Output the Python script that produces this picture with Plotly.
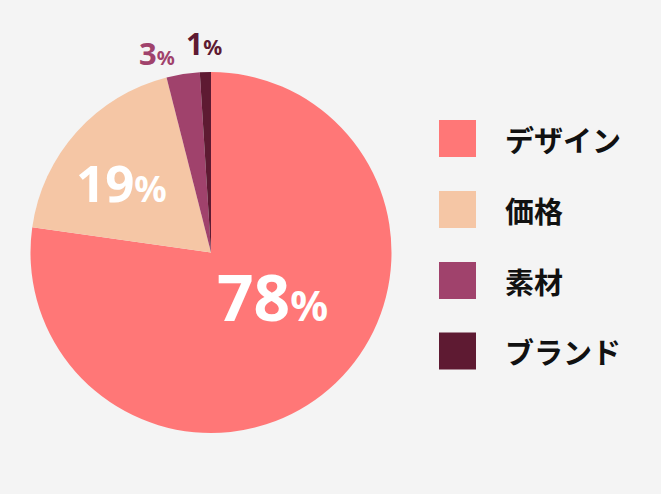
import math
import plotly.graph_objects as go

labels = ["デザイン", "価格", "素材", "ブランド"]
values = [78, 19, 3, 1]
colors = ["#FF7777", "#F5C6A5", "#A0426C", "#5E1A32"]

# label styling (size of number, size of %, colour, radial factor, angular nudge in degrees)
num_sizes = [64, 51, 31, 30]
pct_sizes = [42, 36, 20, 21]
text_colors = ["#FFFFFF", "#FFFFFF", "#A0426C", "#5E1A32"]
rad_factor = [0.418, 0.630, 1.14, 1.155]
ang_nudge = [-13.4, -3.9, -6.3, 0.0]

W, H = 661, 494
px0, px1, py0, py1 = 30, 392, 72, 433  # pie box in pixels
cx, cy, R = (px0 + px1) / 2, (py0 + py1) / 2, (px1 - px0) / 2

fig = go.Figure()
fig.add_trace(go.Pie(
    labels=labels, values=values, sort=False, direction="clockwise", rotation=0,
    marker=dict(colors=colors, line=dict(width=0)),
    textinfo="none",
    domain=dict(x=[px0 / W, px1 / W], y=[1 - py1 / H, 1 - py0 / H]),
    showlegend=False, hoverinfo="skip",
))

total = sum(values)
cum = 0
for v, ns, ps, tc, rf, an in zip(values, num_sizes, pct_sizes, text_colors, rad_factor, ang_nudge):
    mid = (cum + v / 2) / total * 360 + an
    cum += v
    a = math.radians(mid)
    x = cx + rf * R * math.sin(a)
    y = cy - rf * R * math.cos(a)
    fig.add_annotation(
        xref="paper", yref="paper", x=x / W, y=1 - y / H,
        text=f"<b>{v}</b><span style='font-size:{ps}px'><b>%</b></span>",
        showarrow=False, xanchor="center", yanchor="middle",
        font=dict(size=ns, color=tc, family="Noto Sans"),
    )

row_y = [138.5, 209.5, 280.5, 351]
for lab, col, yy in zip(labels, colors, row_y):
    fig.add_shape(type="rect", xref="paper", yref="paper",
                  x0=439 / W, x1=476 / W, y0=1 - (yy + 18.5) / H, y1=1 - (yy - 18.5) / H,
                  fillcolor=col, line=dict(width=0))
    fig.add_annotation(xref="paper", yref="paper", x=503 / W, y=1 - yy / H,
                       text=f"<b>{lab}</b>", showarrow=False, xanchor="left", yanchor="middle",
                       font=dict(size=29, color="#111111", family="Noto Sans CJK JP"))

fig.update_layout(width=W, height=H, margin=dict(l=0, r=0, t=0, b=0),
                  paper_bgcolor="#F4F4F4", plot_bgcolor="#F4F4F4")
fig.write_html("out.html", config={"displayModeBar": False},
               post_script="document.body.style.margin='0';")
